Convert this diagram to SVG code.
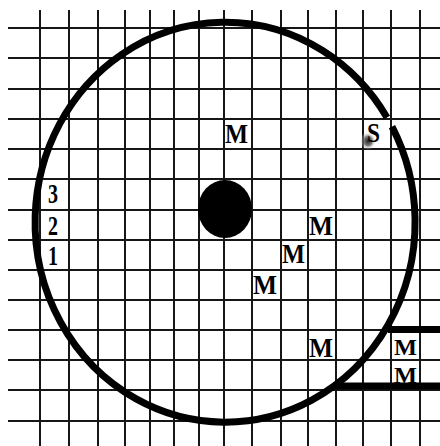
<svg xmlns="http://www.w3.org/2000/svg" width="440" height="446" viewBox="0 0 440 446">
<style>
.g{stroke:#161616;stroke-width:2;fill:none}
.thick{stroke:#000;stroke-width:7;fill:none}
.m{font-family:"Liberation Serif",serif;font-weight:bold;font-size:27px;fill:#000}
.ms{font-size:24px}
.n{font-family:"Liberation Serif",serif;font-weight:bold;font-size:28px;fill:#000}
</style>
<defs>
<radialGradient id="smudge" cx="0.5" cy="0.5" r="0.5">
<stop offset="0" stop-color="#222"/>
<stop offset="0.5" stop-color="#555" stop-opacity="0.8"/>
<stop offset="1" stop-color="#fff" stop-opacity="0"/>
</radialGradient>
</defs>
<rect width="440" height="446" fill="#fff"/>
<g id="grid" class="g">
<path d="M40 10V446M69 10V446M98 10V446M125 10V446M150 10V446M174 10V446M199 10V446M224 10V446M252 10V446M281 10V446M308 10V446M336 10V446M363 10V446M391 10V446M420 10V446"/>
<path d="M8 28H440M8 58H440M8 89H440M8 119H440M8 149H440M8 179H440M8 210H440M8 240H440M8 270H440M8 300H440M8 330H440M8 360H440M8 390H440M8 421H440"/>
</g>
<g id="connectors">
<path class="thick" d="M388 329.5H440"/>
<path class="thick" d="M336 386H440"/>
</g>
<g id="orbit">
<path class="thick" d="M392 126.6 A190 200 0 1 1 387 117.5"/>
</g>
<g id="planet">
<ellipse cx="225" cy="209" rx="27" ry="29" fill="#000"/>
</g>
<g id="smudge-s">
<ellipse cx="368" cy="141" rx="8" ry="9" fill="url(#smudge)"/>
<text class="m" x="367" y="142" textLength="13" lengthAdjust="spacingAndGlyphs">S</text>
</g>
<g id="label-m-top"><text class="m" x="225" y="143" textLength="23" lengthAdjust="spacingAndGlyphs">M</text></g>
<g id="label-m1"><text class="m" x="309" y="235" textLength="24" lengthAdjust="spacingAndGlyphs">M</text></g>
<g id="label-m2"><text class="m" x="282" y="263" textLength="23" lengthAdjust="spacingAndGlyphs">M</text></g>
<g id="label-m3"><text class="m" x="253" y="294" textLength="24" lengthAdjust="spacingAndGlyphs">M</text></g>
<g id="label-m4"><text class="m" x="309" y="357" textLength="24" lengthAdjust="spacingAndGlyphs">M</text></g>
<g id="label-m5"><text class="m ms" x="394" y="355" textLength="23" lengthAdjust="spacingAndGlyphs">M</text></g>
<g id="label-m6"><text class="m ms" x="394" y="383" textLength="23" lengthAdjust="spacingAndGlyphs">M</text></g>
<g id="label-3"><text class="n" x="48" y="203" textLength="10" lengthAdjust="spacingAndGlyphs">3</text></g>
<g id="label-2"><text class="n" x="48" y="235" textLength="10" lengthAdjust="spacingAndGlyphs">2</text></g>
<g id="label-1"><text class="n" x="48" y="265" textLength="10" lengthAdjust="spacingAndGlyphs">1</text></g>
</svg>
